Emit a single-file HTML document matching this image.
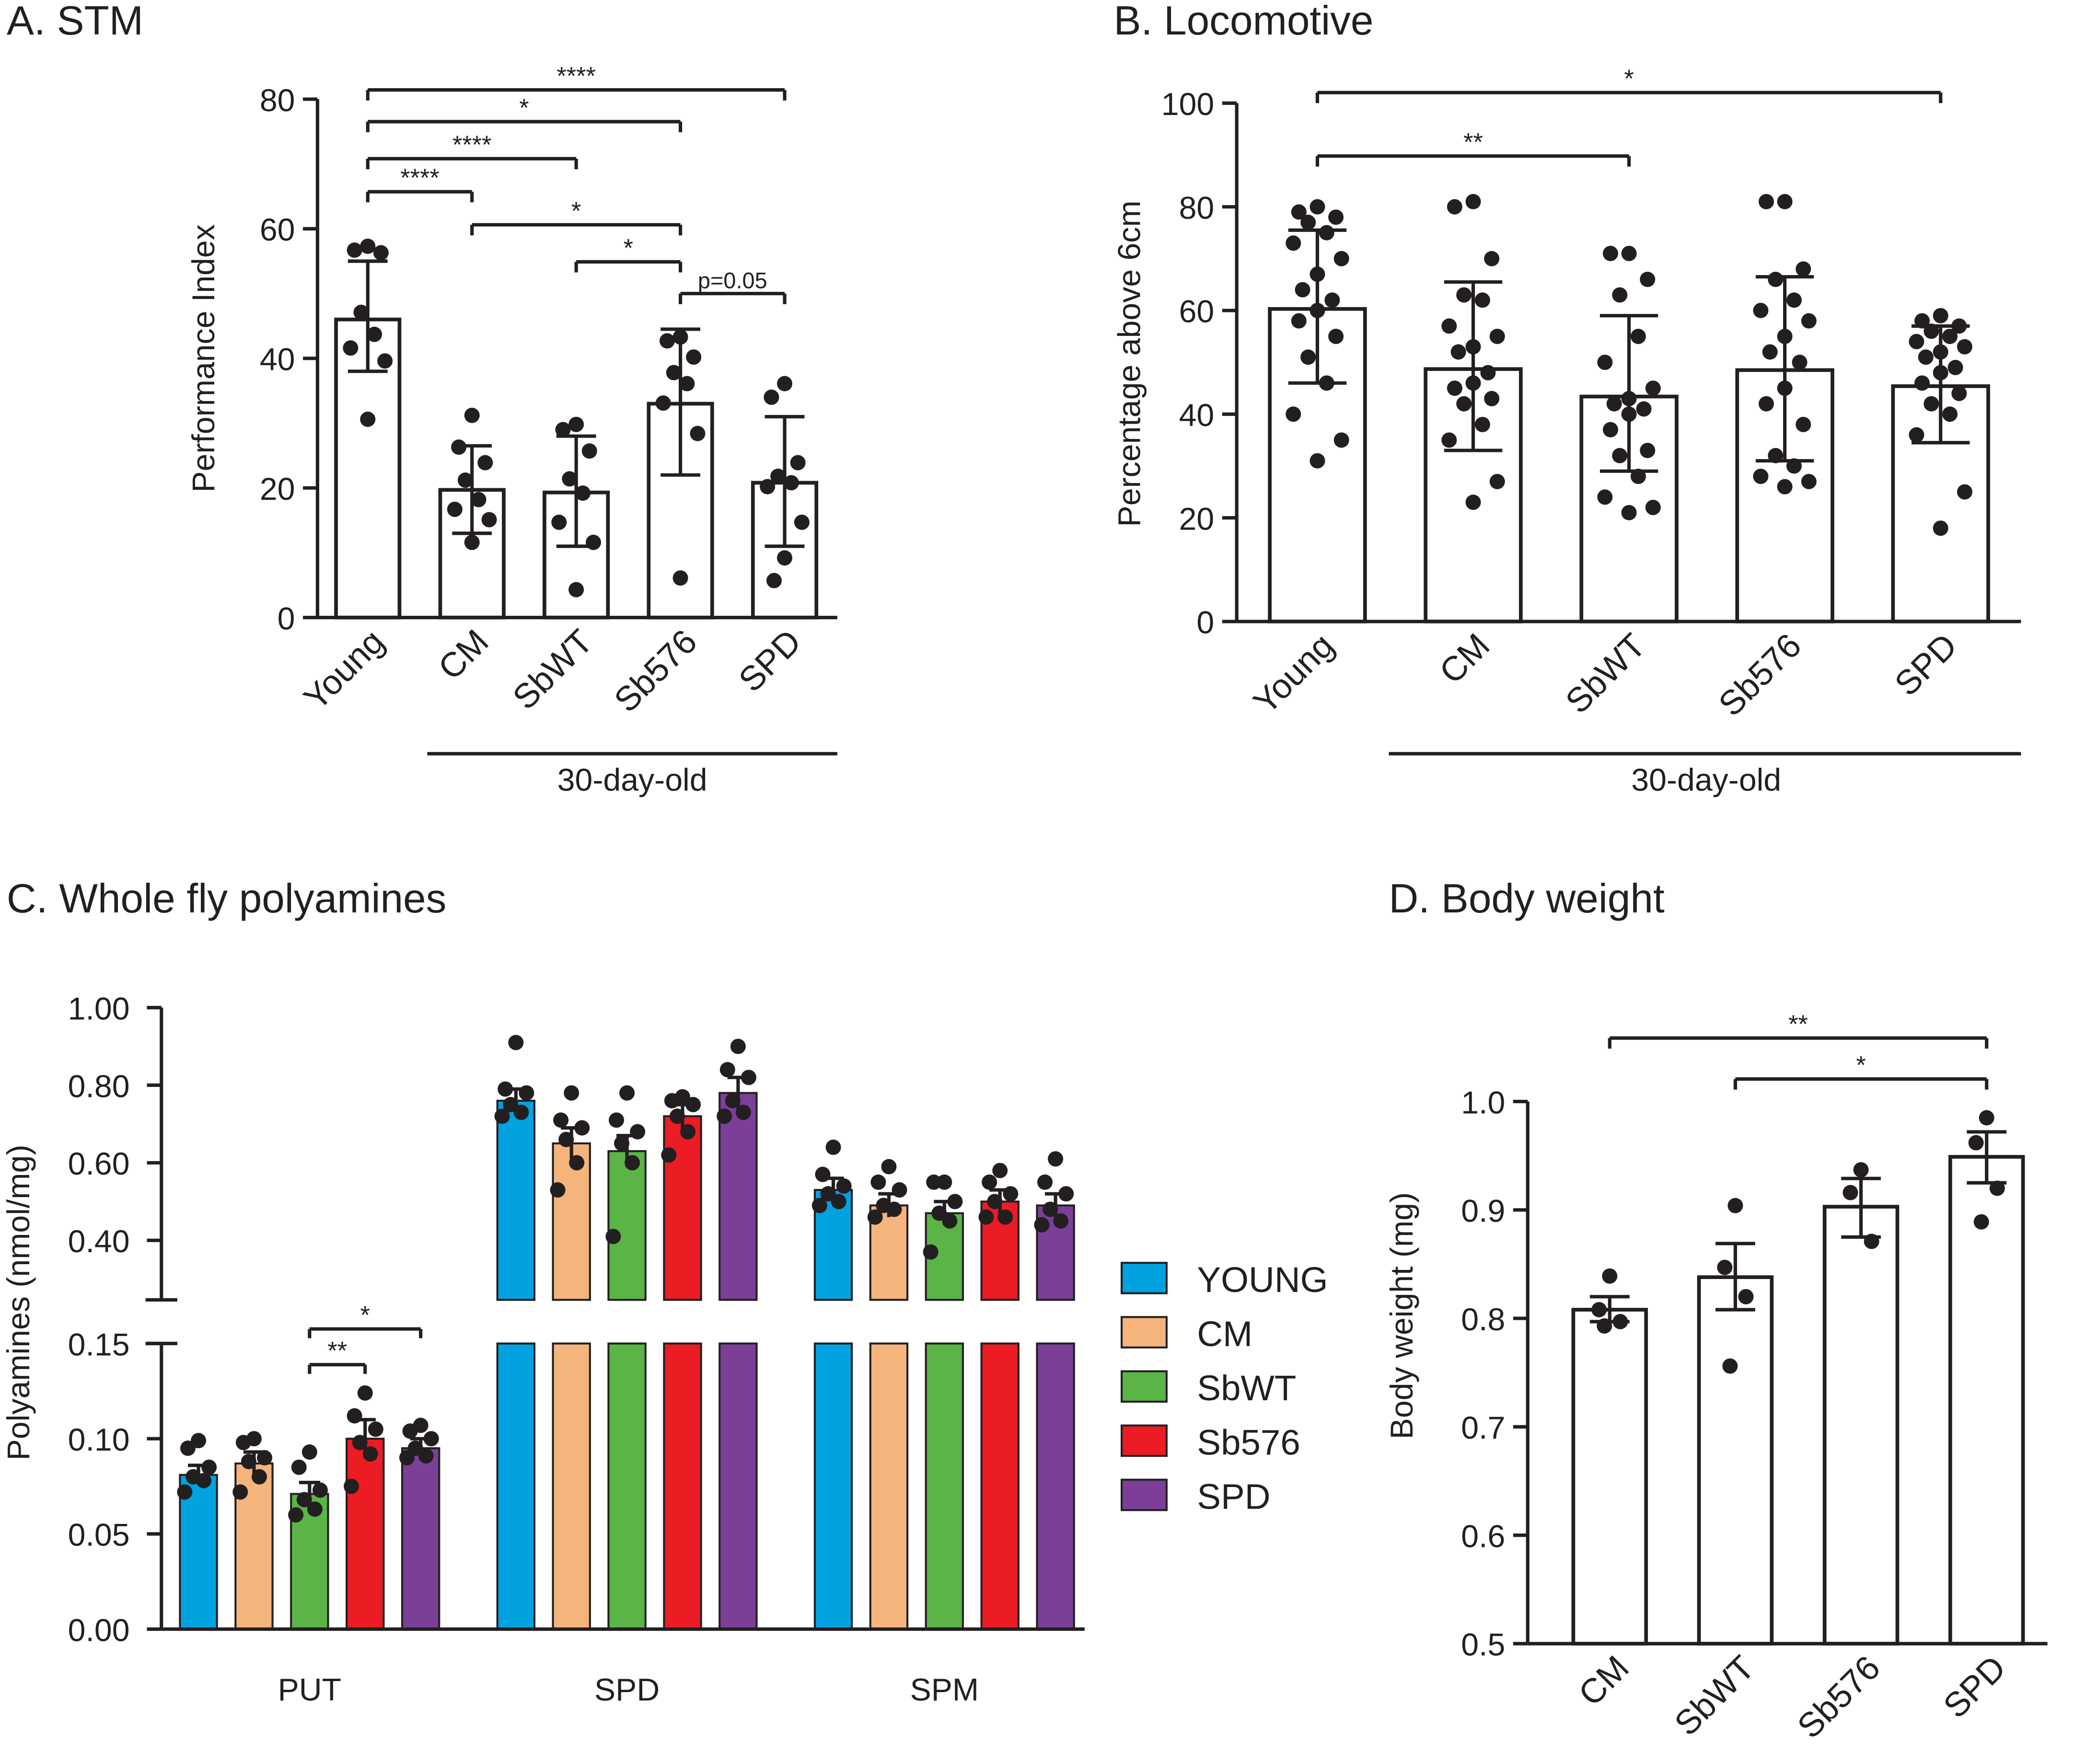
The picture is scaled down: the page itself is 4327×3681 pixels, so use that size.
<!DOCTYPE html>
<html><head><meta charset="utf-8"><style>
html,body{margin:0;padding:0;background:#fff}
svg{display:block}
text{font-family:"Liberation Sans",Arial,sans-serif;fill:#231f20}
</style></head><body>
<svg id="fig" width="4327" height="3681" viewBox="0 0 1568 1334" xmlns="http://www.w3.org/2000/svg"></svg>
<script>
// ---- Panel A data ----
const aCats=["Young","CM","SbWT","Sb576","SPD"];
const aMeans=[46,19.7,19.3,33,20.8];
const aErrLo=[38,13,11,22,11];
const aErrHi=[55,26.5,28,44.5,31];
const aPts=[[57.3,56.7,56.3,47.1,43.7,41.6,39.6,30.6],[31.2,26.3,23.9,21.2,18.2,16.7,15.1,11.6],[29.8,29,25.7,21.4,19.2,14.7,11.6,4.3],[43.3,42.7,40.2,37.8,36.1,33.1,28.4,6.1],[36.1,34,23.9,21.8,20.8,20.2,14.7,9.2,5.7]];
const aTicks=[0,20,40,60,80];
const aSig=[[0,4,"****"],[0,3,"*"],[0,2,"****"],[0,1,"****"],[1,3,"*"],[2,3,"*"],[3,4,"p=0.05"]];
// ---- Panel B data ----
const bCats=["Young","CM","SbWT","Sb576","SPD"];
const bMeans=[60.3,48.7,43.4,48.5,45.4];
const bErrLo=[46,33,29,31,34.5];
const bErrHi=[75.5,65.5,59,66.5,57];
const bPts=[[80,79,78,77,75,73,70,67,64,62,60,58,55,51,46,40,35,31],[81,80,70,63,62,57,55,53,52,48,46,45,43,42,38,35,27,23],[71,71,66,63,55,50,45,43,42,41,40,37,33,32,28,24,22,21],[81,81,68,66,62,60,58,55,52,50,45,42,38,32,30,28,27,26],[59,58,57,56,55,54,53,52,51,49,48,46,44,42,40,36,25,18]];
const bTicks=[0,20,40,60,80,100];
const bSig=[[0,4,"*"],[0,2,"**"]];
// ---- Panel C data ----
const cGroups=["PUT","SPD","SPM"];
const cSeries=["YOUNG","CM","SbWT","Sb576","SPD"];
const cColors=["#00a3e0","#f5b47c","#5ab546","#ec1c24","#7b3f98"];
const cMeans=[[0.081,0.087,0.071,0.100,0.095],[0.76,0.65,0.63,0.72,0.78],[0.53,0.49,0.47,0.50,0.49]];
const cErr=[[0.005,0.006,0.006,0.010,0.005],[0.03,0.04,0.04,0.03,0.04],[0.03,0.03,0.03,0.03,0.03]];
const cPts=[
 [[0.099,0.095,0.085,0.080,0.078,0.072],[0.100,0.098,0.090,0.088,0.080,0.072],[0.093,0.085,0.073,0.068,0.063,0.060],[0.124,0.112,0.105,0.098,0.092,0.075],[0.107,0.104,0.100,0.095,0.091,0.090]],
 [[0.91,0.79,0.78,0.75,0.73,0.72],[0.78,0.71,0.69,0.66,0.60,0.53],[0.78,0.71,0.68,0.65,0.60,0.41],[0.77,0.76,0.75,0.72,0.68,0.62],[0.90,0.84,0.82,0.76,0.73,0.72]],
 [[0.64,0.57,0.54,0.52,0.50,0.49],[0.59,0.55,0.53,0.49,0.48,0.46],[0.55,0.55,0.50,0.47,0.45,0.37],[0.58,0.55,0.52,0.50,0.46,0.46],[0.61,0.55,0.52,0.48,0.45,0.44]]];
const cTicksHi=["1.00","0.80","0.60","0.40"];
const cTicksLo=["0.15","0.10","0.05","0.00"];
const cSig=[[2,4,"*"],[2,3,"**"]];
// ---- Panel D data ----
const dCats=["CM","SbWT","Sb576","SPD"];
const dMeans=[0.808,0.838,0.903,0.949];
const dErrLo=[0.797,0.808,0.875,0.925];
const dErrHi=[0.820,0.869,0.929,0.972];
const dPts=[[0.839,0.808,0.797,0.793],[0.904,0.847,0.820,0.756],[0.937,0.916,0.871],[0.985,0.962,0.920,0.889]];
const dTicks=[0.5,0.6,0.7,0.8,0.9,1.0];
const dSig=[[0,3,"**"],[1,3,"*"]];

const S=document.getElementById('fig');const NS="http://www.w3.org/2000/svg";
function el(t,a,p){const e=document.createElementNS(NS,t);for(const k in a)e.setAttribute(k,a[k]);(p||S).appendChild(e);return e;}
function txt(x,y,s,size,anchor,extra){const e=el('text',Object.assign({x:x,y:y,'font-size':size,'text-anchor':anchor||'middle'},extra||{}));e.textContent=s;return e;}
function L(x1,y1,x2,y2,w){return el('line',{x1,y1,x2,y2,stroke:'#231f20','stroke-width':w||2.6});}
function jit(i,n){const o=[0,-10,10,-5,5,-13,13,0,-8,8];return o[i%o.length]*(n>10?1.4:1);}

function barPanel(cfg){
 const g=el('g',{});
 const y=v=>cfg.y0+(v-cfg.vmin)*(cfg.y1-cfg.y0)/(cfg.vmax-cfg.vmin);
 const x=i=>cfg.x0+i*cfg.step;
 cfg.means.forEach((m,i)=>{
  const b=el('rect',{x:x(i)-cfg.bw/2,y:y(m),width:cfg.bw,height:cfg.y0-y(m),fill:'#fff',stroke:'#231f20','stroke-width':2.8},g);
  
  L(x(i),y(cfg.lo[i]),x(i),y(cfg.hi[i]));L(x(i)-cfg.cap,y(cfg.lo[i]),x(i)+cfg.cap,y(cfg.lo[i]));L(x(i)-cfg.cap,y(cfg.hi[i]),x(i)+cfg.cap,y(cfg.hi[i]));
  cfg.pts[i].forEach((v,j)=>{const c=el('circle',{cx:x(i)+jit(j,cfg.pts[i].length)*cfg.js,cy:y(v),r:5.8,fill:'#231f20'},g);
   });
  const t=txt(x(i)+cfg.lx,cfg.ly,cfg.cats[i],cfg.fs,'end',{transform:`rotate(-45 ${x(i)+cfg.lx} ${cfg.ly})`});
  
 });
 L(cfg.ax,cfg.y0,cfg.xend,cfg.y0);L(cfg.ax,cfg.y0,cfg.ax,y(cfg.vmax));
 cfg.ticks.forEach(t=>{L(cfg.ax-11,y(t),cfg.ax,y(t));const e=txt(cfg.ax-17,y(t)+9,cfg.fmt?cfg.fmt(t):String(t),24,'end');});
 cfg.sig.forEach((s,k)=>{const yy=cfg.sigY[k];L(x(s[0]),yy,x(s[1]),yy);L(x(s[0]),yy,x(s[0]),yy+8);L(x(s[1]),yy,x(s[1]),yy+8);
  txt((x(s[0])+x(s[1]))/2,yy-4,s[2],s[2].startsWith('p')?17:19,'middle');});
 const yt=txt(cfg.ytX,cfg.ytY,cfg.ytitle,24,'middle',{transform:`rotate(-90 ${cfg.ytX} ${cfg.ytY})`});
 
}
barPanel({name:'panel-a-stm',cats:aCats,means:aMeans,lo:aErrLo,hi:aErrHi,pts:aPts,ticks:aTicks,sig:aSig,
 sigY:[68,92,120,145,170,198,222],y0:467,y1:75,vmin:0,vmax:80,x0:278,step:78.8,bw:48,cap:15,js:1,ax:240,xend:633,lx:14,ly:487,fs:26,ytX:162,ytY:271,ytitle:'Performance Index'});
barPanel({name:'panel-b-locomotive',cats:bCats,means:bMeans,lo:bErrLo,hi:bErrHi,pts:bPts,ticks:bTicks,sig:bSig,
 sigY:[70,118],y0:470,y1:78,vmin:0,vmax:100,x0:996,step:117.8,bw:72,cap:22,js:1,ax:935,xend:1528,lx:14,ly:490,fs:26,ytX:862,ytY:275,ytitle:'Percentage above 6cm'});
barPanel({name:'panel-d-body-weight',cats:dCats,means:dMeans,lo:dErrLo,hi:dErrHi,pts:dPts,ticks:dTicks,sig:dSig,fmt:t=>t.toFixed(1),
 sigY:[785,816],y0:1243,y1:833,vmin:0.5,vmax:1.0,x0:1217,step:95,bw:55,cap:15,js:0.8,ax:1155,xend:1548,lx:16,ly:1263,fs:26,ytX:1068,ytY:995,ytitle:'Body weight (mg)'});

// 30-day-old lines
L(323,570,633,570);txt(478,598,'30-day-old',24);
L(1050,570,1528,570);txt(1290,598,'30-day-old',24);
// titles
[[5,26,'A. STM'],[842,26,'B. Locomotive'],[5,690,'C. Whole fly polyamines'],[1050,690,'D. Body weight']].forEach(t=>{const e=txt(t[0],t[1],t[2],31,'start');});

// ---- Panel C ----
(function(){
 const g=el('g',{});
 const yHi=v=>938-(v-0.4)*(938-762)/0.6;
 const yLo=v=>1232-v*(1232-1016)/0.15;
 const brkTop=983,brkBot=1016;
 const x=(gi,si)=>150+gi*240+si*42;const bw=28;
 cMeans.forEach((row,gi)=>row.forEach((m,si)=>{
  const xc=x(gi,si);const col=cColors[si];
  if(gi===0){const r=el('rect',{x:xc-bw/2,y:yLo(m),width:bw,height:1232-yLo(m),fill:col,stroke:'#231f20','stroke-width':1.5},g);
   
   const e=cErr[gi][si];L(xc,yLo(m-e),xc,yLo(m+e));L(xc-8,yLo(m+e),xc+8,yLo(m+e));
   cPts[gi][si].forEach((v,j)=>{const c=el('circle',{cx:xc+jit(j,6)*0.8,cy:yLo(v),r:5.8,fill:'#231f20'},g);});
  } else {
   const r=el('rect',{x:xc-bw/2,y:yHi(m),width:bw,height:brkTop-yHi(m),fill:col,stroke:'#231f20','stroke-width':1.5},g);
   
   const r2=el('rect',{x:xc-bw/2,y:brkBot,width:bw,height:1232-brkBot,fill:col,stroke:'#231f20','stroke-width':1.5},g);
   
   const e=cErr[gi][si];L(xc,yHi(m-e),xc,yHi(m+e));L(xc-8,yHi(m+e),xc+8,yHi(m+e));
   cPts[gi][si].forEach((v,j)=>{const c=el('circle',{cx:xc+jit(j,6)*0.8,cy:yHi(v),r:5.8,fill:'#231f20'},g);});
  }
 }));
 L(122,762,122,brkTop);L(122,brkBot,122,1232);L(122,1232,820,1232);
 L(110,brkTop,134,brkTop);L(110,brkBot,134,brkBot);
 cTicksHi.forEach(t=>{const yy=yHi(parseFloat(t));L(111,yy,122,yy);txt(98,yy+9,t,24,'end');});
 cTicksLo.forEach(t=>{const yy=yLo(parseFloat(t));L(111,yy,122,yy);txt(98,yy+9,t,24,'end');});
 cGroups.forEach((n,gi)=>{const e=txt(x(gi,2),1286,n,24);});
 cSig.forEach((s,k)=>{const yy=[1005,1032][k];L(x(0,s[0]),yy,x(0,s[1]),yy);L(x(0,s[0]),yy,x(0,s[0]),yy+7);L(x(0,s[1]),yy,x(0,s[1]),yy+7);txt((x(0,s[0])+x(0,s[1]))/2,yy-4,s[2],19);});
 const yt=txt(22,985,'Polyamines (nmol/mg)',24,'middle',{transform:'rotate(-90 22 985)'});
 
 cSeries.forEach((n,si)=>{const yy=955+si*41;
  const r=el('rect',{x:848,y:yy,width:34,height:23,fill:cColors[si],stroke:'#231f20','stroke-width':1.5},g);
  
  const t=txt(905,yy+22,n,27,'start');});
})();
</script>
</body></html>
